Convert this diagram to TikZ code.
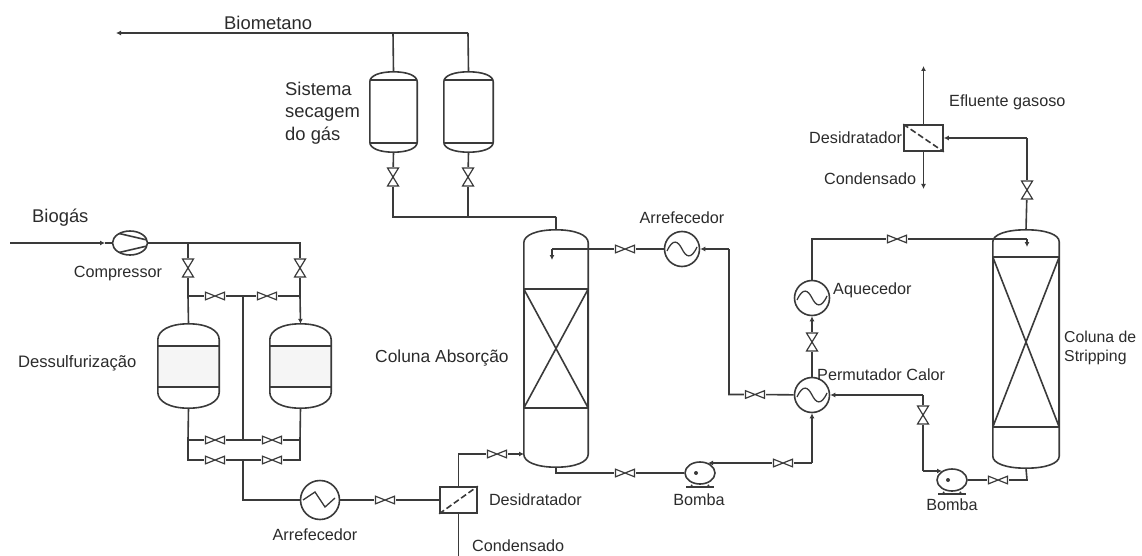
\documentclass[tikz,border=0pt]{standalone}
\usepackage{fontspec}
\setmainfont{Liberation Sans}
\usepackage{xcolor}
\usetikzlibrary{shapes.geometric,arrows.meta,positioning,calc}

\definecolor{pipecol}{HTML}{3A3A3A}
\definecolor{labelcol}{HTML}{2B2B2B}

% domed vessel outline drawn over a named node: name, dome height
\newcommand{\vesselbody}[2]{
  \draw[pipe] ([yshift=-#2pt]#1.north west)
    .. controls ([yshift=-.4*#2pt]#1.north west) and ($(#1.north west)!.4!(#1.north)$) .. (#1.north)
    .. controls ($(#1.north east)!.4!(#1.north)$) and ([yshift=-.4*#2pt]#1.north east) .. ([yshift=-#2pt]#1.north east)
    -- ([yshift=#2pt]#1.south east)
    .. controls ([yshift=.4*#2pt]#1.south east) and ($(#1.south east)!.4!(#1.south)$) .. (#1.south)
    .. controls ($(#1.south west)!.4!(#1.south)$) and ([yshift=.4*#2pt]#1.south west) .. ([yshift=#2pt]#1.south west)
    -- cycle;
}

\begin{document}
\begin{tikzpicture}[
  x=1pt, y=-1pt,
  pipe/.style={draw=pipecol, line width=1.6pt},
  arrflow/.style={-{Latex[length=5pt,width=5pt]}},
  lbl/.style={font=\fontsize{16.2}{22}\selectfont, text=labelcol, inner sep=0pt, anchor=west, align=left},
  lblbig/.style={lbl, font=\fontsize{18.4}{22.5}\selectfont},
  vessel/.style={inner sep=0pt, minimum width=#1},
  valveh/.style={inner sep=0pt, minimum width=22pt, minimum height=10pt,
    path picture={\draw[pipe, line width=1.2pt, shift={(path picture bounding box.center)}]
      (-9.5,-3.8) -- (9.5,3.8) -- (9.5,-3.8) -- (-9.5,3.8) -- cycle;}},
  valvev/.style={inner sep=0pt, minimum width=13pt, minimum height=20pt,
    path picture={\draw[pipe, line width=1.2pt, shift={(path picture bounding box.center)}]
      (-5.5,-9) -- (5.5,9) -- (-5.5,9) -- (5.5,-9) -- cycle;}},
  hxsmooth/.style={circle, pipe, fill=white, inner sep=0pt, minimum size=35pt,
    path picture={\draw[pipe, line width=1.3pt, shift={(path picture bounding box.center)}]
      (-15,2) .. controls (-9,-11) and (-4,-8) .. (0,0) .. controls (4,8) and (9,11) .. (15,-2);}},
  hxzig/.style={circle, pipe, fill=white, inner sep=0pt, minimum size=39pt,
    path picture={\draw[pipe, line width=1.3pt, shift={(path picture bounding box.center)}]
      (-17,0) -- (-5,-8) -- (5,7) -- (15,-2);}},
  dehyd/.style={rectangle, pipe, fill=white, inner sep=0pt, minimum width=37pt, minimum height=26pt},
  pumpbody/.style={ellipse, pipe, fill=white, inner sep=0pt, minimum width=30pt, minimum height=22pt,
    path picture={\fill[pipecol] ([xshift=-4pt]path picture bounding box.center) circle (2pt);}},
  compbody/.style={ellipse, pipe, fill=white, inner sep=0pt, minimum width=35pt, minimum height=24pt,
    path picture={\draw[pipe, shift={(path picture bounding box.center)}]
      (-13,-10) -- (17,-3) (-13,10) -- (17,3);}},
  membrane/.style={pipe, dash pattern=on 6pt off 3pt}
]
  \useasboundingbox (0,0) rectangle (1142,556);

  % equipment
  \node[compbody] (comp) at (130,243) {};
  \node[vessel=61pt, minimum height=84pt] (dessa) at (188.5,366) {};
  \node[vessel=61pt, minimum height=84pt] (dessb) at (300.5,366) {};
  \node[vessel=47pt, minimum height=80pt] (drya) at (393.5,112) {};
  \node[vessel=49pt, minimum height=80pt] (dryb) at (468.5,112) {};
  \node[vessel=64pt, minimum height=237pt] (absb) at (556,348.5) {};
  \node[vessel=66pt, minimum height=238pt] (strip) at (1026,349) {};
  \node[hxzig] (coola) at (320,500) {};
  \node[hxsmooth] (coolb) at (682,249) {};
  \node[hxsmooth] (heater) at (812,298) {};
  \node[hxsmooth] (perm) at (812,395) {};
  \node[dehyd] (deha) at (458.5,500) {};
  \node[dehyd, minimum width=39pt] (dehb) at (923.5,138) {};
  \node[pumpbody] (pumpa) at (700,473) {};
  \node[pumpbody] (pumpb) at (952,480) {};

  % valves
  \node[valvev] (vdessa) at (188,268) {};
  \node[valvev] (vdessb) at (300,268) {};
  \node[valveh] (vtopa) at (215,296) {};
  \node[valveh] (vtopb) at (267,296) {};
  \node[valveh] (vmida) at (215,440) {};
  \node[valveh] (vmidb) at (272,440) {};
  \node[valveh] (vlowa) at (215,460) {};
  \node[valveh] (vlowb) at (272,460) {};
  \node[valveh] (vfeed) at (385,500) {};
  \node[valveh] (vabsin) at (497,454) {};
  \node[valvev] (vdrya) at (393,177) {};
  \node[valvev] (vdryb) at (468,177) {};
  \node[valveh] (vcool) at (625,249) {};
  \node[valveh] (vrich) at (625,473) {};
  \node[valveh] (vlean) at (755,394.5) {};
  \node[valveh] (vpump) at (783,463) {};
  \node[valvev] (vheat) at (812,342) {};
  \node[valveh] (vstrtop) at (897,239) {};
  \node[valvev] (vgas) at (1027,190) {};
  \node[valvev] (vret) at (923,415) {};
  \node[valveh] (vstrbot) at (998,480) {};

  % pipe junctions
  \coordinate (bioin) at (10,243);
  \coordinate (biotip) at (105,243);
  \coordinate (teel) at (188,243);
  \coordinate (teer) at (300,243);
  \coordinate (crossl) at (188,296);
  \coordinate (crossm) at (243,296);
  \coordinate (crossr) at (300,296);
  \coordinate (midl) at (188,440);
  \coordinate (midm) at (243,440);
  \coordinate (midr) at (300,440);
  \coordinate (lowl) at (188,460);
  \coordinate (lowm) at (243,460);
  \coordinate (lowr) at (300,460);
  \coordinate (coolin) at (243,500);
  \coordinate (biometa) at (116,33);
  \coordinate (biometb) at (393,33);
  \coordinate (biometc) at (468,33);
  \coordinate (dryl) at (393,217);
  \coordinate (dryr) at (468,217);
  \coordinate (dryt) at (556,217);
  \coordinate (absbend) at (458.5,454);
  \coordinate (absin) at (524,454);
  \coordinate (condout) at (458.5,556);
  \coordinate (sprayb) at (552,249);
  \coordinate (spraytip) at (552,260);
  \coordinate (coolbend) at (729,249);
  \coordinate (leanbend) at (729,394.5);
  \coordinate (absbot) at (556,473);
  \coordinate (pumpout) at (708,463);
  \coordinate (permbot) at (812,463);
  \coordinate (strbend) at (812,239);
  \coordinate (strtee) at (1027,239);
  \coordinate (stripin) at (1027,247);
  \coordinate (gasbend) at (1027,138);
  \coordinate (gastip) at (923.5,66);
  \coordinate (condtip) at (923.5,189);
  \coordinate (retbend) at (923,395);
  \coordinate (retlow) at (923,471);
  \coordinate (pumpin) at (942,471);
  \coordinate (strbotb) at (1027,480);

  % vessels
  \fill[black!4] (dessa.west |- 0,346) rectangle (dessa.east |- 0,387);
  \fill[black!4] (dessb.west |- 0,346) rectangle (dessb.east |- 0,387);
  \vesselbody{dessa}{16}
  \vesselbody{dessb}{16}
  \vesselbody{drya}{10}
  \vesselbody{dryb}{10}
  \vesselbody{absb}{13}
  \vesselbody{strip}{12}
  \draw[pipe] (dessa.west |- 0,346) -- (dessa.east |- 0,346);
  \draw[pipe] (dessa.west |- 0,387) -- (dessa.east |- 0,387);
  \draw[pipe] (dessb.west |- 0,346) -- (dessb.east |- 0,346);
  \draw[pipe] (dessb.west |- 0,387) -- (dessb.east |- 0,387);
  \draw[pipe] (drya.west |- 0,80) -- (drya.east |- 0,80);
  \draw[pipe] (drya.west |- 0,143) -- (drya.east |- 0,143);
  \draw[pipe] (dryb.west |- 0,80) -- (dryb.east |- 0,80);
  \draw[pipe] (dryb.west |- 0,143) -- (dryb.east |- 0,143);
  \draw[pipe] (absb.west |- 0,289) rectangle (absb.east |- 0,408);
  \draw[pipe] (absb.west |- 0,289) -- (absb.east |- 0,408);
  \draw[pipe] (absb.west |- 0,408) -- (absb.east |- 0,289);
  \draw[pipe] (strip.west |- 0,257) rectangle (strip.east |- 0,427);
  \draw[pipe] (strip.west |- 0,257) -- (strip.east |- 0,427);
  \draw[pipe] (strip.west |- 0,427) -- (strip.east |- 0,257);

  % dashed membranes and pump feet
  \draw[membrane] (deha.south west) -- (deha.north east);
  \draw[membrane] (dehb.north west) -- (dehb.south east);
  \draw[pipe] ([shift={(-14pt,-2pt)}]pumpa.south) -- ([shift={(14pt,-2pt)}]pumpa.south);
  \draw[pipe] ([xshift=-8pt]pumpa.south) -- ([shift={(-9pt,-2pt)}]pumpa.south);
  \draw[pipe] ([xshift=8pt]pumpa.south) -- ([shift={(9pt,-2pt)}]pumpa.south);
  \draw[pipe] ([shift={(-14pt,-2pt)}]pumpb.south) -- ([shift={(14pt,-2pt)}]pumpb.south);
  \draw[pipe] ([xshift=-8pt]pumpb.south) -- ([shift={(-9pt,-2pt)}]pumpb.south);
  \draw[pipe] ([xshift=8pt]pumpb.south) -- ([shift={(9pt,-2pt)}]pumpb.south);

  % biogas side
  \draw[pipe, arrflow] (bioin) -- (biotip);
  \draw[pipe] (biotip) -- (comp);
  \draw[pipe] (comp) -- (teer) -- (vdessb);
  \draw[pipe] (teel) -- (vdessa) -- (crossl) -- (dessa.north);
  \draw[pipe, arrflow] (vdessb) -- (crossr) -- (dessb.north);
  \draw[pipe] (crossl) -- (vtopa) -- (crossm) -- (vtopb) -- (crossr);
  \draw[pipe] (crossm) -- (midm);
  \draw[pipe] (dessa.south) -- (midl) -- (lowl) -- (vlowa) -- (lowm) -- (vlowb) -- (lowr) -- (midr) -- (dessb.south);
  \draw[pipe] (midl) -- (vmida) -- (midm) -- (vmidb) -- (midr);
  \draw[pipe] (lowm) -- (coolin) -- (coola);
  \draw[pipe] (coola) -- (vfeed) -- (deha);
  \draw[pipe] (deha) -- (absbend) -- (vabsin);
  \draw[pipe, arrflow] (vabsin) -- (absin);
  \draw[pipe] (deha) -- (condout);

  % biomethane side
  \draw[pipe] (dryt) -- (absb.north);
  \draw[pipe] (dryt) -- (dryl) -- (vdrya) -- (drya.south);
  \draw[pipe] (dryr) -- (vdryb) -- (dryb.south);
  \draw[pipe] (drya.north) -- (biometb);
  \draw[pipe] (dryb.north) -- (biometc);
  \draw[pipe, arrflow] (biometc) -- (biometa);

  % solvent loop
  \draw[pipe] (absb.south) -- (absbot) -- (vrich) -- (pumpa);
  \draw[pipe, arrflow] (vpump) -- (pumpout);
  \draw[pipe] (vpump) -- (permbot);
  \draw[pipe, arrflow] (permbot) -- (perm);
  \draw[pipe, arrflow] (vheat) -- (heater);
  \draw[pipe] (perm) -- (vheat);
  \draw[pipe] (heater) -- (strbend) -- (vstrtop) -- (strtee);
  \draw[pipe, arrflow] (strtee) -- (stripin);
  \draw[pipe] (strip.north) -- (vgas);
  \draw[pipe] (vgas) -- (gasbend);
  \draw[pipe, arrflow] (gasbend) -- (dehb);
  \draw[pipe, arrflow] (dehb) -- (gastip);
  \draw[pipe, arrflow] (dehb) -- (condtip);
  \draw[pipe] (strip.south) -- (strbotb) -- (vstrbot) -- (pumpb);
  \draw[pipe] (retlow) -- (vret);
  \draw[pipe, arrflow] (retlow) -- (pumpin);
  \draw[pipe, arrflow] (retbend) -- (perm);
  \draw[pipe] (retbend) -- (vret);
  \draw[pipe] (perm) -- (vlean) -- (leanbend) -- (coolbend);
  \draw[pipe, arrflow] (coolbend) -- (coolb);
  \draw[pipe] (coolb) -- (vcool) -- (sprayb);
  \draw[pipe, arrflow] (sprayb) -- (spraytip);

  % labels
  \node[lblbig] (tbiomet) at (224,23) {Biometano};
  \node[lblbig] (tbiogas) at (32,218) {Biogás};
  \node[lblbig] (tsecagem) at (285,113) {Sistema\\secagem\\do gás};
  \node[lbl, below=10pt of comp, xshift=-12pt] (tcomp) {Compressor};
  \node[lbl, font=\fontsize{16.6}{22}\selectfont] (tdess) at (18,363) {Dessulfurização};
  \node[lbl, below=8pt of coola, xshift=-5pt] (tarrefa) {Arrefecedor};
  \node[lbl, font=\fontsize{17.4}{22}\selectfont] (tabsb) at (375,358) {Coluna Absorção};
  \node[lbl, above=7pt of coolb] (tarrefb) {Arrefecedor};
  \node[lbl, right=11pt of deha] (tdeha) {Desidratador};
  \node[lbl] (tconda) at (472,546) {Condensado};
  \node[lbl, below=8.5pt of pumpa, xshift=-1pt] (tbomba) {Bomba};
  \node[lbl] (tefl) at (949,102) {Efluente gasoso};
  \node[lbl] (tdehb) at (809,138) {Desidratador};
  \node[lbl] (tcondb) at (824,179) {Condensado};
  \node[lbl] (theater) at (833,290) {Aquecedor};
  \node[lbl] (tperm) at (817,375) {Permutador Calor};
  \node[lbl, font=\fontsize{15.8}{19.5}\selectfont] (tstrip) at (1064,348) {Coluna de\\Stripping};
  \node[lbl, below=7pt of pumpb] (tbombb) {Bomba};
\end{tikzpicture}
\end{document}
